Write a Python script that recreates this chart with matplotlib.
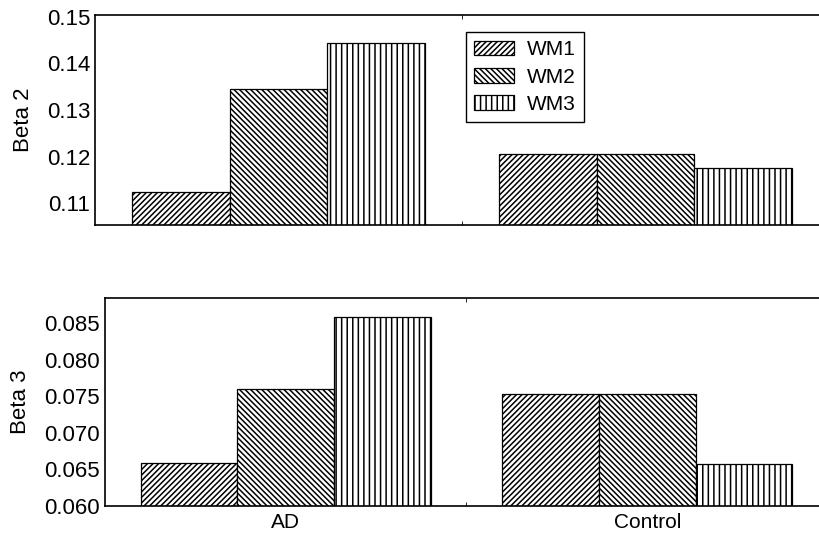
import numpy as np
import matplotlib
matplotlib.use('Agg')
from matplotlib import pyplot as plt

plt.rcParams['font.family'] = ['Liberation Sans', 'DejaVu Sans']
plt.rcParams['font.size'] = 15
plt.rcParams['hatch.linewidth'] = 1.1

# Donnees
groupes = ['AD', 'Control']
series = ['WM1', 'WM2', 'WM3']
beta2 = {'WM1': [0.1124, 0.1205],
         'WM2': [0.1345, 0.1205],
         'WM3': [0.1445, 0.1175]}
beta3 = {'WM1': [0.0658, 0.07535],
         'WM2': [0.0760, 0.07535],
         'WM3': [0.0858, 0.0657]}
motifs = ['//////', '\\\\\\\\\\\\', '|||']

fig = plt.figure(figsize=(8.2, 5.34), dpi=100)
ax_haut = fig.add_axes([95/820, 1-225/534, 734/820, 210/534])
ax_bas = fig.add_axes([105/820, 1-505.7/534, 723/820, 207.4/534])

x = np.arange(len(groupes))
largeur = 0.267

def tracer(ax, donnees):
    for i, nom in enumerate(series):
        ax.bar(x + (i-1)*largeur, donnees[nom], largeur, bottom=0,
               color='white', edgecolor='black', linewidth=0.9,
               hatch=motifs[i], label=nom)
    ax.set_xlim(-0.5, 1.5)
    ax.set_xticks([0.5], minor=True)
    ax.tick_params(axis='both', direction='in', length=0, labelsize=16)
    ax.tick_params(axis='x', which='minor', direction='in', length=3,
                   top=True, bottom=True)
    for s in ax.spines.values():
        s.set_linewidth(1.2)
    ax.spines['right'].set_visible(False)

tracer(ax_haut, beta2)
ax_haut.set_ylim(0.10535, 0.1504)
ax_haut.set_yticks([0.11, 0.12, 0.13, 0.14, 0.15])
ax_haut.set_yticklabels(['0.11', '0.12', '0.13', '0.14', '0.15'])
ax_haut.set_xticks([])
ax_haut.set_ylabel('Beta 2', fontsize=16, labelpad=9)
ax_haut.legend(loc='upper left', bbox_to_anchor=(466/820, 1-32/534),
               bbox_transform=fig.transFigure, borderaxespad=0,
               fancybox=False, edgecolor='black', framealpha=1,
               handlelength=1.9, handleheight=0.7, handletextpad=0.6,
               labelspacing=0.4, borderpad=0.4)
ax_haut.get_legend().get_frame().set_linewidth(1.0)

tracer(ax_bas, beta3)
ax_bas.set_ylim(0.060, 0.0884)
ax_bas.set_yticks([0.060, 0.065, 0.070, 0.075, 0.080, 0.085])
ax_bas.set_yticklabels(['0.060', '0.065', '0.070', '0.075', '0.080', '0.085'])
ax_bas.set_xticks(x)
ax_bas.set_xticklabels(groupes, fontsize=15)
ax_bas.tick_params(axis='x', pad=5)
ax_bas.set_ylabel('Beta 3', fontsize=16, labelpad=10)

fig.savefig('out.png', dpi=100)
